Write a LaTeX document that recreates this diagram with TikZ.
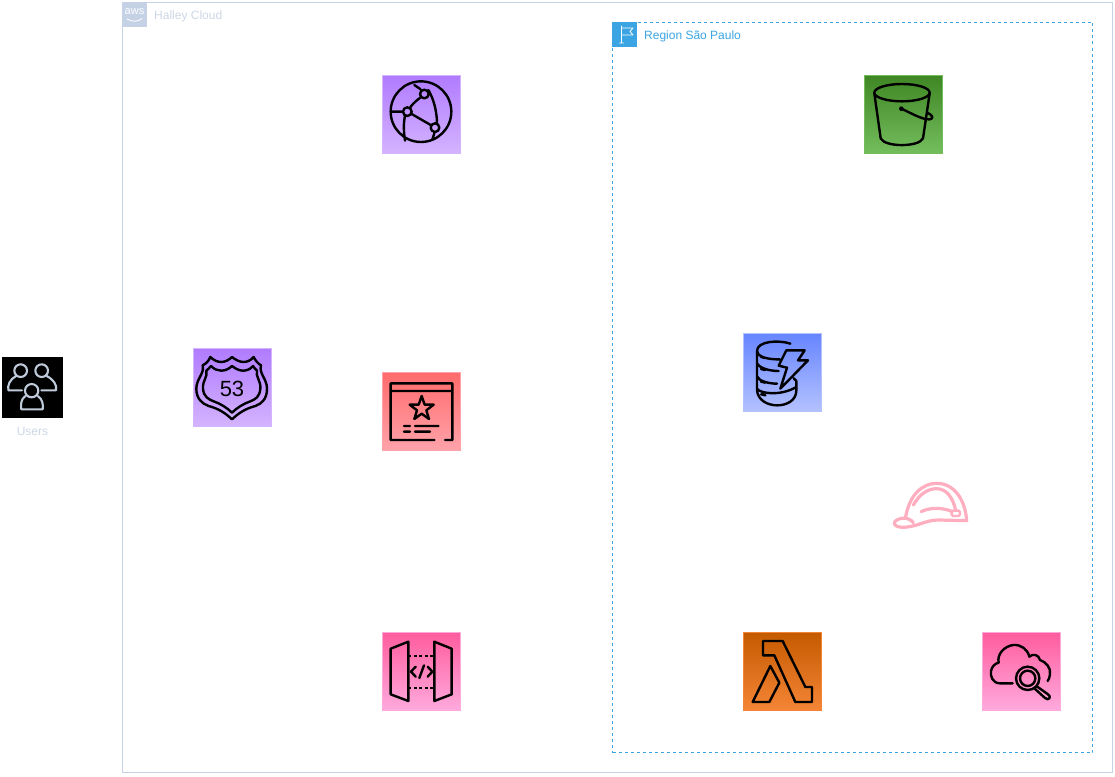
\documentclass[tikz,border=0pt]{standalone}
\usepackage{fontspec}
\setmainfont{Liberation Sans}
\definecolor{grouphalley}{HTML}{C5D2E6}
\definecolor{halleytext}{HTML}{CDD7E6}
\definecolor{regionblue}{HTML}{3BA5E3}
\definecolor{hatpink}{HTML}{FFAEC0}
\definecolor{usersline}{HTML}{BFCBDB}
\definecolor{purpleT}{HTML}{B07BFF}
\definecolor{purpleB}{HTML}{D4B3FF}
\definecolor{greenT}{HTML}{3F8624}
\definecolor{greenB}{HTML}{74BD5D}
\definecolor{redT}{HTML}{FF6B6B}
\definecolor{redB}{HTML}{FFA2AA}
\definecolor{blueT}{HTML}{6685FF}
\definecolor{blueB}{HTML}{B4C1FF}
\definecolor{pinkT}{HTML}{FF5C9D}
\definecolor{pinkB}{HTML}{FFAADD}
\definecolor{orangeT}{HTML}{C45A00}
\definecolor{orangeB}{HTML}{F58536}
\tikzset{
  x=1pt,y=-1pt,
  tile/.style 2 args={rectangle,anchor=north west,inner sep=0pt,outer sep=0pt,minimum size=78pt,
    top color=#1,bottom color=#2,draw=#2,line width=.4pt},
  grouplabel/.style={anchor=west,inner sep=0pt,font=\fontsize{12}{14}\selectfont},
  iconline/.style={draw=black,line width=2.4pt,line join=round,line cap=round},
  zoomed/.style={scale=0.33333},
}
\begin{document}
\begin{tikzpicture}
\path[use as bounding box,fill=white] (0,0) rectangle (1115,776);

% Groups
\node[draw=grouphalley,line width=1pt,rectangle,anchor=north west,inner sep=0pt,outer sep=0pt,minimum width=990pt,minimum height=770pt] (cloud) at (122.5,2.5) {};
\node[fill=grouphalley,rectangle,anchor=north west,inner sep=0pt,minimum size=25pt] (awsicon) at (122,2) {};
\node[anchor=center,inner sep=0pt,text=white,font=\fontsize{11}{12}\selectfont] (awstext) at (134.5,11.5) {aws};
\draw[white,line width=.8pt,line cap=round] (127,19) .. controls (132,22) and (138,22) .. (142,18.5);
\node[grouplabel,text=halleytext] (cloudlabel) at (154,16.5) {Halley Cloud};

\node[draw=regionblue,dashed,dash pattern=on 3pt off 3pt,line width=1pt,rectangle,anchor=north west,inner sep=0pt,outer sep=0pt,minimum width=480pt,minimum height=730pt] (region) at (612.5,22.5) {};
\node[fill=regionblue,rectangle,anchor=north west,inner sep=0pt,minimum size=25pt] (flagicon) at (612,22) {};
\draw[white,line width=.8pt,line cap=round,line join=round] (619.5,43) -- (623.5,43) (621.5,43) -- (621.5,26) (621.5,28) -- (633,28) -- (630,31.5) -- (633,35) -- (621.5,35);
\node[grouplabel,text=regionblue] (regionlabel) at (644,36.5) {Region São Paulo};

% Users
\node[fill=black,rectangle,anchor=north west,inner sep=0pt,outer sep=0pt,minimum width=61pt,minimum height=61pt] (users) at (2,357) {};
\node[anchor=center,inner sep=0pt,text=halleytext,font=\fontsize{12}{14}\selectfont] (userslabel) at (32.5,431) {Users};
\begin{scope}[shift={(0,350)},zoomed]
  \draw[usersline,line width=2.1pt,line join=round,line cap=round]
    (62,62) circle [radius=19]
    (125,62) circle [radius=19]
    (95,122) circle [radius=20]
    (48,78) .. controls (30,88) and (22,105) .. (25,121) -- (66,121)
    (140,78) .. controls (160,88) and (172,105) .. (168,121) -- (124,121)
    (76,138) .. controls (62,148) and (62,165) .. (64,178) -- (128,178) .. controls (130,165) and (128,148) .. (114,138);
\end{scope}

% CloudFront
\node[tile={purpleT}{purpleB}] (cloudfront) at (382,75) {};
\begin{scope}[shift={(375,70)},zoomed]
  \draw[iconline]
    (138,125) circle [radius=91]
    (148,72) circle [radius=13]
    (97,125) circle [radius=13]
    (180,173) circle [radius=13]
    (110,132) -- (167,165)
    (106,112) .. controls (114,100) and (124,92) .. (137,82)
    (118,45) -- (137,58)
    (160,60) .. controls (175,85) and (185,120) .. (186,158)
    (49,125) -- (84,125)
    (90,138) .. controls (85,160) and (86,185) .. (90,212)
    (178,190) -- (172,208);
\end{scope}

% S3
\node[tile={greenT}{greenB}] (s3) at (864,75) {};
\begin{scope}[shift={(858,70)},zoomed]
  \draw[iconline]
    (132,68) ellipse [x radius=83,y radius=26]
    (49,70) -- (68,205) .. controls (80,232) and (183,232) .. (195,205) -- (215,70);
  \fill (130,116) circle [radius=7];
  \draw[iconline] (130,116) .. controls (160,130) and (195,150) .. (215,148) .. controls (228,146) and (225,136) .. (208,128);
\end{scope}

% Route 53
\node[tile={purpleT}{purpleB}] (route) at (193,348) {};
\begin{scope}[shift={(187,342)},zoomed]
  \draw[iconline]
    (47,70) .. controls (58,65) and (66,55) .. (70,45) .. controls (80,55) and (92,60) .. (103,60) .. controls (115,60) and (127,53) .. (135,45) .. controls (145,53) and (157,60) .. (170,60) .. controls (180,60) and (192,55) .. (200,45) .. controls (205,55) and (213,65) .. (222,70) .. controls (215,95) and (240,110) .. (240,140) .. controls (240,170) and (225,185) .. (205,192) .. controls (175,200) and (155,213) .. (135,232) .. controls (115,213) and (95,200) .. (65,192) .. controls (45,185) and (28,170) .. (28,140) .. controls (28,110) and (53,95) .. (47,70) -- cycle
    (72,72) .. controls (82,82) and (92,86) .. (103,86) .. controls (115,86) and (127,80) .. (135,72) .. controls (145,80) and (157,86) .. (168,86) .. controls (178,86) and (190,82) .. (198,72) .. controls (202,78) and (206,82) .. (210,86) .. controls (205,105) and (222,115) .. (220,140) .. controls (218,165) and (205,172) .. (190,178) .. controls (170,185) and (150,197) .. (135,212) .. controls (120,197) and (100,185) .. (80,178) .. controls (65,172) and (50,165) .. (48,140) .. controls (46,115) and (63,105) .. (58,86) .. controls (62,82) and (68,78) .. (72,72) -- cycle;
  \node[inner sep=0pt,text=black,font=\fontsize{22}{23}\selectfont] (routenum) at (135,141) {53};
\end{scope}

% WAF
\node[tile={redT}{redB}] (waf) at (382,372) {};
\begin{scope}[shift={(375,366)},zoomed]
  \draw[iconline]
    (178,222) -- (47,222) -- (47,52) -- (232,52) -- (232,222) -- (210,222)
    (47,75) -- (232,75)
    (140,90) -- (149,116) -- (176,116) -- (154,133) -- (162,159) -- (140,143) -- (118,159) -- (126,133) -- (104,116) -- (131,116) -- cycle
    (87,180) -- (105,180)
    (120,180) -- (190,180)
    (87,197) -- (105,197)
    (120,197) -- (165,197);
\end{scope}

% DynamoDB
\node[tile={blueT}{blueB}] (dynamo) at (743,333) {};
\begin{scope}[shift={(737,327)},zoomed]
  \draw[iconline]
    (160,50) .. controls (125,38) and (60,42) .. (60,72) .. controls (60,88) and (90,98) .. (128,97)
    (60,72) -- (60,190)
    (60,108) .. controls (65,122) and (95,132) .. (125,132)
    (60,148) .. controls (65,162) and (95,170) .. (120,170)
    (60,185) .. controls (70,200) and (130,208) .. (178,180)
    (60,190) .. controls (65,250) and (178,250) .. (178,190) -- (178,162) -- (170,154)
    (72,90) -- (85,93)
    (72,126) -- (85,129)
    (72,164) -- (85,167)
    (72,202) -- (85,205)
    (148,70) -- (203,70) -- (183,100) -- (213,100) -- (130,185) -- (150,122) -- (125,116) -- cycle;
\end{scope}

% Hard hat
\begin{scope}[shift={(885,470)},zoomed]
  \draw[hatpink,line width=3.2pt,line join=round,line cap=round]
    (62,140) .. controls (75,70) and (115,40) .. (155,40) .. controls (205,40) and (240,85) .. (245,152)
    -- (160,150) .. controls (120,150) and (100,170) .. (55,172) .. controls (20,172) and (20,150) .. (50,145) .. controls (65,142) and (80,150) .. (85,158)
    (85,105) .. controls (105,70) and (130,56) .. (155,56) .. controls (185,56) and (205,85) .. (212,122)
    (108,125) .. controls (135,112) and (170,112) .. (200,124);
  \draw[hatpink,line width=2.4pt,rounded corners=1.5pt] (200,122) rectangle (225,138);
\end{scope}

% API Gateway
\node[tile={pinkT}{pinkB}] (api) at (382,632) {};
\begin{scope}[shift={(375,626)},zoomed]
  \draw[iconline]
    (47,68) -- (100,47) -- (100,225) -- (47,205) -- cycle
    (178,47) -- (230,68) -- (230,205) -- (178,225) -- cycle
    (122,122) -- (108,137) -- (122,152)
    (158,122) -- (172,137) -- (158,152)
    (147,118) -- (133,156);
  \draw[draw=black,line width=2.2pt,dash pattern=on 3pt off 2.5pt]
    (100,90) -- (178,90)
    (100,185) -- (178,185);
\end{scope}

% Lambda
\node[tile={orangeT}{orangeB}] (lambda) at (743,632) {};
\begin{scope}[shift={(737,626)},zoomed]
  \draw[iconline]
    (78,45) -- (137,45) -- (205,183) -- (225,183) -- (225,228) -- (175,228) -- (112,88) -- (78,88) -- cycle
    (100,120) -- (127,170) -- (97,228) -- (47,228) -- cycle;
\end{scope}

% CloudWatch
\node[tile={pinkT}{pinkB}] (watch) at (982,632) {};
\begin{scope}[shift={(976,626)},zoomed]
  \draw[iconline]
    (110,172) -- (72,172) .. controls (50,172) and (42,150) .. (45,135) .. controls (48,120) and (58,112) .. (68,110) .. controls (62,85) and (85,60) .. (112,57) .. controls (135,55) and (155,70) .. (160,92) .. controls (170,82) and (188,85) .. (192,102) .. controls (210,108) and (225,125) .. (222,145) .. controls (221,155) and (218,160) .. (215,165)
    (155,157) circle [radius=35]
    (155,157) circle [radius=23]
    (181,180) -- (216,205) .. controls (228,212) and (218,226) .. (207,216) -- (175,187);
\end{scope}
\end{tikzpicture}
\end{document}
